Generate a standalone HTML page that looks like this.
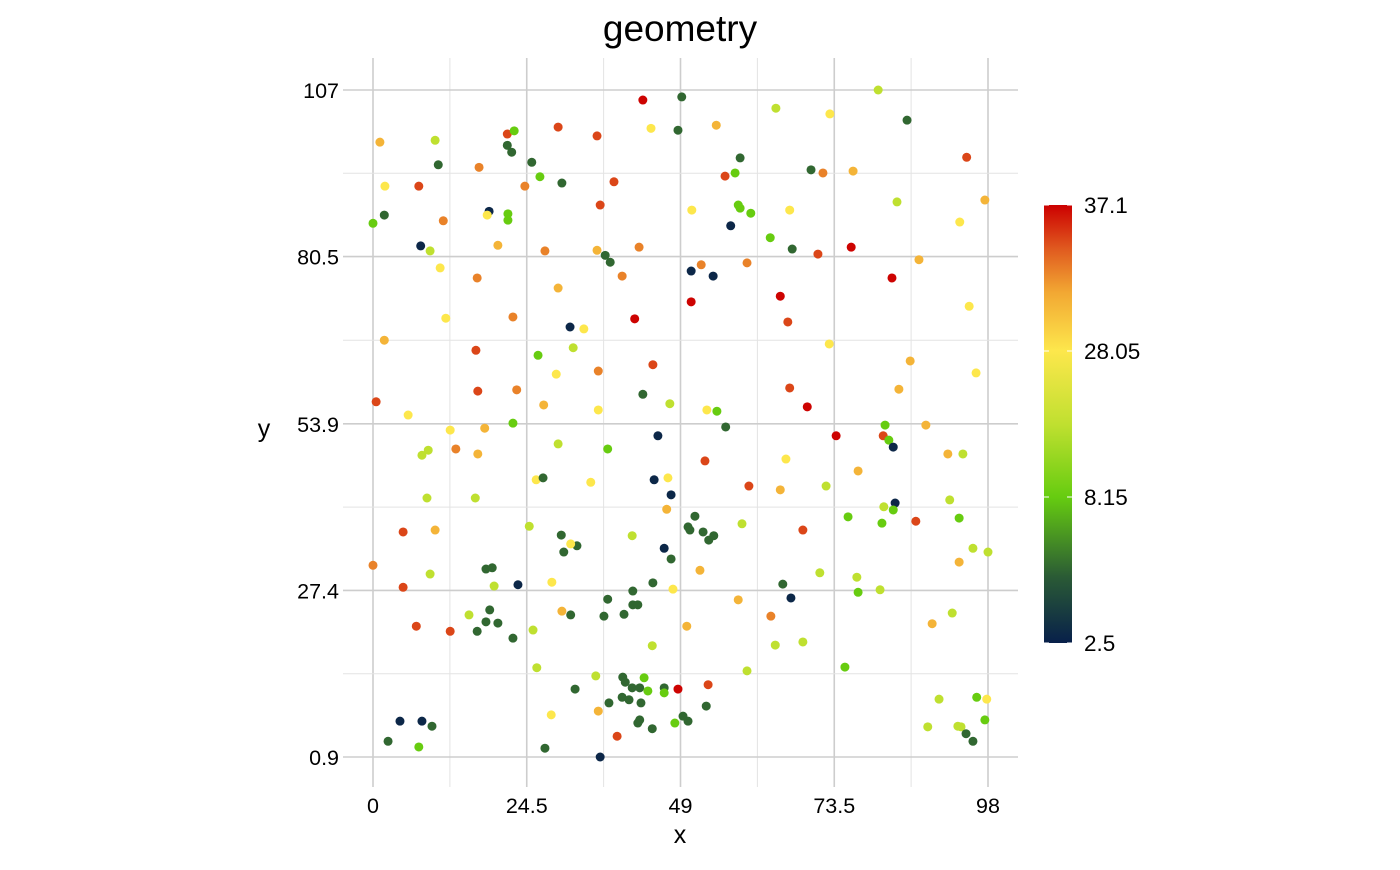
<!DOCTYPE html>
<html><head><meta charset="utf-8"><style>
body{margin:0;background:#fff;font-family:"Liberation Sans",sans-serif}
svg text{font-family:"Liberation Sans",sans-serif;fill:#000}
</style></head><body>
<svg id="chart" width="1400" height="865" xmlns="http://www.w3.org/2000/svg">
<text x="680" y="41" font-size="37" text-anchor="middle">geometry</text>
<g id="grid"></g>
<g id="axes"></g>
<g id="points"></g>
<text x="680" y="843" font-size="25" text-anchor="middle">x</text>
<text x="264" y="437" font-size="25" text-anchor="middle">y</text>
<defs><linearGradient id="cbg" x1="0" y1="1" x2="0" y2="0">
<stop offset="0" stop-color="#08204a"/><stop offset="0.15" stop-color="#2a5a35"/><stop offset="0.333" stop-color="#66cc10"/><stop offset="0.5" stop-color="#c0e030"/><stop offset="0.667" stop-color="#fde74c"/><stop offset="0.8" stop-color="#f2a833"/><stop offset="0.9" stop-color="#e05a1f"/><stop offset="1" stop-color="#cc0000"/></linearGradient></defs>
<g id="legend"></g>
</svg>
<script>
const xTicks=[0,24.5,49,73.5,98];
const yTicks=[0.9,27.4,53.9,80.5,107];
const legendValues=[2.5,8.15,28.05,37.1];
const legendLabels=["2.5","8.15","28.05","37.1"];
const points=[
[43.0,105.4,37],[49.2,105.9,5.4],[64.2,104.1,18],[80.5,107,18],[72.8,103.2,28],[85.1,102.2,5.4],
[1.1,98.7,31],[9.9,99.0,18],[21.4,100.0,35],[22.5,100.5,8.2],[29.5,101.1,35],[35.7,99.7,35],[44.3,100.9,28],[48.6,100.6,5.4],[54.7,101.4,31],
[10.4,95.1,5.4],[16.9,94.7,33],[21.4,98.2,5.4],[22.1,97.1,5.4],[25.3,95.5,5.4],[26.6,93.2,8.2],[30.1,92.2,5.4],[38.4,92.4,35],[56.1,93.3,35],[57.7,93.8,8.2],[58.5,96.2,5.4],[69.8,94.3,5.4],[71.7,93.8,33],[76.5,94.1,31],[94.6,96.3,35],
[1.9,91.7,28],[7.3,91.7,35],[1.8,87.1,5.4],[0,85.8,8.2],[11.2,86.2,33],[18.5,87.7,2.8],[18.2,87.1,28],[21.5,87.3,8.2],[21.5,86.3,8.2],[24.2,91.7,33],[36.2,88.7,35],[50.8,87.9,28],[57.0,85.4,2.8],[58.2,88.7,8.2],[58.5,88.2,8.2],[60.2,87.4,8.2],[66.4,87.9,28],[83.5,89.2,18],[93.5,86.0,28],[97.5,89.5,31],
[7.6,82.2,2.8],[9.1,81.4,18],[19.9,82.3,31],[27.4,81.4,33],[35.7,81.5,31],[37.0,80.7,5.4],[37.8,79.6,5.4],[42.4,82.0,33],[39.7,77.4,33],[50.7,78.2,2.8],[52.3,79.2,33],[54.2,77.4,2.8],[59.6,79.5,33],[63.3,83.5,8.2],[66.8,81.7,5.4],[70.9,80.9,35],[76.2,82.0,37],[87.0,80.0,31],
[10.7,78.7,28],[16.6,77.1,33],[29.5,75.5,31],[50.7,73.3,37],[64.9,74.2,37],[66.1,70.1,35],[82.7,77.1,37],[95.0,72.6,28],
[11.6,70.7,28],[22.3,70.9,33],[31.4,69.3,2.8],[33.6,69.0,28],[41.7,70.6,37],[1.8,67.2,31],[16.4,65.6,35],[26.3,64.8,8.2],[31.9,66.0,18],[44.6,63.3,35],[72.7,66.6,28],[85.6,63.9,31],
[35.9,62.3,33],[29.2,61.8,28],[16.7,59.1,35],[22.9,59.3,33],[43.0,58.6,5.4],[66.4,59.6,35],[69.2,56.6,37],[83.8,59.4,31],[96.1,62.0,28],
[0.5,57.4,35],[5.6,55.3,28],[27.2,56.9,31],[35.9,56.1,28],[47.3,57.1,18],[53.2,56.1,28],[54.8,55.9,8.2],[56.2,53.4,5.4],[81.6,53.7,8.2],[73.8,52.0,37],[81.3,52.0,35],[82.2,51.3,8.2],[82.9,50.2,2.8],[88.1,53.7,31],[12.3,52.9,28],[17.8,53.2,31],[22.3,54.0,8.2],[29.5,50.7,18],[37.4,49.9,8.2],[45.4,52.0,2.8],
[8.8,49.7,18],[7.8,48.9,18],[13.2,49.9,33],[16.7,49.1,31],[52.9,48.0,35],[65.8,48.3,28],[77.3,46.4,31],[91.6,49.1,31],[94.0,49.1,18],
[26.0,45.0,28],[27.1,45.3,5.4],[34.7,44.6,28],[44.8,45.0,2.8],[47.0,45.3,28],[47.5,42.6,2.8],[59.9,44.0,35],[64.9,43.4,31],[72.2,44.0,18],[8.6,42.1,18],[16.3,42.1,18],[46.8,40.3,31],[91.9,41.8,18],
[83.2,41.3,2.8],[81.4,40.7,18],[82.9,40.2,8.2],[75.7,39.1,8.2],[81.1,38.1,8.2],[86.5,38.4,35],[93.4,38.9,8.2],[51.3,39.2,5.4],[50.2,37.5,5.4],[50.5,37.0,5.4],[52.6,36.7,5.4],[53.5,35.4,5.4],[54.3,36.1,5.4],[58.8,38.0,18],[68.5,37.0,35],
[4.8,36.7,35],[9.9,37.0,31],[24.9,37.6,18],[30.0,36.2,5.4],[30.4,33.5,5.4],[32.5,34.5,5.4],[31.5,34.8,28],[41.3,36.1,18],[46.4,34.1,2.8],[47.5,32.4,5.4],[95.6,34.1,18],[98.0,33.5,18],
[0,31.4,33],[9.1,30.0,18],[18.0,30.8,5.4],[19.0,31.0,5.4],[4.8,27.9,35],[19.3,28.1,18],[23.1,28.3,2.8],[28.5,28.7,28],[41.4,27.3,5.4],[44.6,28.6,5.4],[37.4,26.0,5.4],[52.1,30.6,31],[65.3,28.4,5.4],[66.6,26.2,2.8],[58.2,25.9,31],[71.2,30.2,18],[77.1,29.5,18],[77.3,27.1,8.2],[80.8,27.5,18],[93.4,31.9,31],
[15.3,23.5,18],[18.6,24.3,5.4],[16.6,20.9,5.4],[18.0,22.4,5.4],[19.9,22.2,5.4],[22.3,19.8,5.4],[6.9,21.7,35],[12.3,20.9,35],[30.1,24.1,31],[31.5,23.5,5.4],[36.8,23.3,5.4],[40.0,23.6,5.4],[41.4,25.1,5.4],[42.2,25.1,5.4],[47.8,27.6,28],[50.0,21.7,31],[63.4,23.3,33],[92.3,23.8,18],[89.1,22.1,31],
[25.5,21.1,18],[44.5,18.6,18],[64.1,18.7,18],[68.5,19.2,18],[26.1,15.1,18],[59.6,14.6,18],[75.2,15.2,8.2],
[32.2,11.7,5.4],[35.5,13.8,18],[39.8,13.6,5.4],[40.2,12.8,5.4],[41.3,11.9,5.4],[42.5,11.9,5.4],[39.7,10.4,5.4],[40.8,10.0,5.4],[37.6,9.5,5.4],[43.2,13.5,8.2],[43.8,11.4,8.2],[46.4,11.9,5.4],[46.4,11.1,8.2],[48.6,11.7,37],[53.4,12.4,35],[35.9,8.2,31],[42.7,9.5,5.4],[53.1,9.0,5.4],
[4.3,6.6,2.8],[7.8,6.6,2.8],[9.4,5.8,5.4],[2.4,3.4,5.4],[7.3,2.5,8.2],[28.4,7.6,28],[27.4,2.3,5.4],[36.2,0.9,2.8],[38.9,4.2,35],[42.2,6.3,5.4],[42.5,6.8,5.4],[44.5,5.4,5.4],[48.1,6.3,8.2],[49.4,7.4,5.4],[50.2,6.6,5.4],[90.2,10.1,18],[88.4,5.7,18],[96.2,10.4,8.2],[97.8,10.1,28],[97.5,6.8,8.2],[93.2,5.8,18],[93.7,5.7,18],[94.5,4.6,5.4],[95.6,3.4,5.4]
];
const NS='http://www.w3.org/2000/svg';
const X0=373,X1=988,Y0=757,Y1=90,xMin=0,xMax=98,yMin=0.9,yMax=107;
const sx=v=>X0+(v-xMin)/(xMax-xMin)*(X1-X0);
const sy=v=>Y0-(v-yMin)/(yMax-yMin)*(Y0-Y1);
const stops=[[0,[8,32,74]],[0.15,[42,90,53]],[0.333,[102,204,16]],[0.5,[192,224,48]],[0.667,[253,231,76]],[0.8,[242,168,51]],[0.9,[224,90,31]],[1,[204,0,0]]];
function tOf(v){for(let i=0;i<legendValues.length-1;i++){const a=legendValues[i],b=legendValues[i+1];if(v<=b||i==legendValues.length-2){return Math.max(0,Math.min(1,(i+(v-a)/(b-a))/(legendValues.length-1)));}}}
function col(v){const t=tOf(v);for(let i=0;i<stops.length-1;i++){const [a,ca]=stops[i],[b,cb]=stops[i+1];if(t<=b){const f=(t-a)/(b-a);return 'rgb('+ca.map((c,k)=>Math.round(c+(cb[k]-c)*f)).join(',')+')';}}return 'rgb(204,0,0)';}
function mk(tag,attrs,parent){const e=document.createElementNS(NS,tag);for(const k in attrs)e.setAttribute(k,attrs[k]);parent.appendChild(e);return e;}
const grid=document.getElementById('grid'),axes=document.getElementById('axes'),pg=document.getElementById('points'),lg=document.getElementById('legend');
for(let i=0;i<xTicks.length;i++){
 if(i<xTicks.length-1){const m=(xTicks[i]+xTicks[i+1])/2;const l=mk('line',{x1:sx(m),x2:sx(m),y1:58,y2:787,stroke:'#e3e3e3','stroke-width':1},grid);
 
 }
 const g=mk('line',{x1:sx(xTicks[i]),x2:sx(xTicks[i]),y1:58,y2:787,stroke:'#cdcdcd','stroke-width':1.6},grid);
 
 
 const t=mk('text',{x:sx(xTicks[i]),y:813,'font-size':21.5,'text-anchor':'middle'},axes);t.textContent=xTicks[i];
 
 
}
for(let i=0;i<yTicks.length;i++){
 if(i<yTicks.length-1){const m=(yTicks[i]+yTicks[i+1])/2;const l=mk('line',{x1:343,x2:1018,y1:sy(m),y2:sy(m),stroke:'#e3e3e3','stroke-width':1},grid);
 
 }
 const g=mk('line',{x1:343,x2:1018,y1:sy(yTicks[i]),y2:sy(yTicks[i]),stroke:'#cdcdcd','stroke-width':1.6},grid);
 
 
 const t=mk('text',{x:339,y:sy(yTicks[i])+8,'font-size':21.5,'text-anchor':'end'},axes);t.textContent=yTicks[i];
 
 
}
points.forEach(p=>{const c=mk('circle',{cx:sx(p[0]),cy:sy(p[1]),r:4.5,fill:col(p[2])},pg);
 
 });
const LB=643,LT=205;
const bar=mk('rect',{x:1044,y:LT,width:28,height:LB-LT,fill:'url(#cbg)'},lg);


legendValues.forEach((v,i)=>{const y=LB-tOf(v)*(LB-LT);
 mk('line',{x1:1044,x2:1049,y1:y,y2:y,stroke:'#fff','stroke-width':1},lg);
 mk('line',{x1:1067,x2:1072,y1:y,y2:y,stroke:'#fff','stroke-width':1},lg);
 const t=mk('text',{x:1084,y:y+8,'font-size':22.5},lg);t.textContent=legendLabels[i];
 
 });
</script>
</body></html>
